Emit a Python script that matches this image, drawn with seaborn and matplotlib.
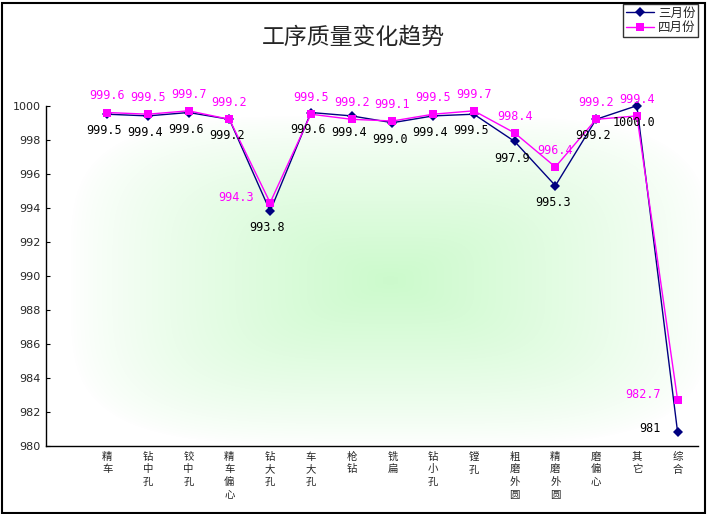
import numpy as np
import pandas as pd
import seaborn as sns
import matplotlib
matplotlib.use("Agg")
from matplotlib import pyplot as plt
from matplotlib.patches import Rectangle

# data
processes = ["精车", "钻中孔", "铰中孔", "精车偏心", "钻大孔", "车大孔", "枪钻", "铣扁",
             "钻小孔", "镗孔", "粗磨外圆", "精磨外圆", "磨偏心", "其它", "综合"]
march = [999.5, 999.4, 999.6, 999.2, 993.8, 999.6, 999.4, 999.0,
         999.4, 999.5, 997.9, 995.3, 999.2, 1000.0, 980.8]
april = [999.6, 999.5, 999.7, 999.2, 994.3, 999.5, 999.2, 999.1,
         999.5, 999.7, 998.4, 996.4, 999.2, 999.4, 982.7]
march_text = ["999.5", "999.4", "999.6", "999.2", "993.8", "999.6", "999.4", "999.0",
              "999.4", "999.5", "997.9", "995.3", "999.2", "1000.0", "981"]
april_text = ["999.6", "999.5", "999.7", "999.2", "994.3", "999.5", "999.2", "999.1",
              "999.5", "999.7", "998.4", "996.4", "999.2", "999.4", "982.7"]
series_names = ["三月份", "四月份"]
yticks = [980, 982, 984, 986, 988, 990, 992, 994, 996, 998, 1000]

NAVY = "#000080"
MAGENTA = "#FF00FF"

sns.set_theme(style="white")
plt.rcParams["font.family"] = ["Noto Sans CJK SC", "DejaVu Sans"]
plt.rcParams["axes.unicode_minus"] = False

n = len(processes)
pos = np.arange(1, n + 1)

df = pd.DataFrame({
    "pos": np.concatenate([pos, pos]),
    "value": march + april,
    "月份": [series_names[0]] * n + [series_names[1]] * n,
})

W, H = 707, 514
fig = plt.figure(figsize=(W / 100, H / 100), dpi=100)

# soft green background glow (rectangular gradient from centre)
bg = fig.add_axes([0, 0, 1, 1], zorder=-5)
xx, yy = np.meshgrid(np.arange(W), np.arange(H))
t = ((np.abs(xx - 390) / 320) ** 4 + (np.abs(yy - 280) / 165) ** 4) ** 0.25
a = np.clip(1 - t, 0, 1) ** 0.8
img = np.ones((H, W, 3))
green = np.array([0.80, 0.98, 0.80])
img = img * (1 - a[..., None]) + green * a[..., None]
bg.imshow(img, extent=(0, W, H, 0), aspect="auto")
bg.set_xlim(0, W)
bg.set_ylim(H, 0)
bg.axis("off")

ax = fig.add_axes([46 / W, 1 - 446 / H, (698 - 46) / W, (446 - 105.7) / H])
ax.set_facecolor("none")

sns.lineplot(data=df, x="pos", y="value", hue="月份", style="月份",
             markers={series_names[0]: "D", series_names[1]: "s"}, dashes=False,
             palette={series_names[0]: NAVY, series_names[1]: MAGENTA},
             linewidth=1.0, markersize=5.5, markeredgewidth=0, ax=ax)
for line in ax.get_lines():
    line.set_clip_on(False)

ax.set_xlim(-0.5, n + 0.5)
ax.set_ylim(980, 1000)
ax.set_yticks(yticks)
ax.set_yticklabels([str(v) for v in yticks], family="DejaVu Sans", fontsize=8)
ax.set_xticks(pos)
ax.set_xticklabels(["\n".join(p) for p in processes], fontsize=7.5, linespacing=1.35)
ax.set_xticks(np.arange(-0.5, n + 1), minor=True)
ax.tick_params(axis="x", which="major", length=0, pad=4)
ax.tick_params(axis="x", which="minor", direction="in", length=3, width=0.8, color="black")
ax.tick_params(axis="y", direction="in", length=3, width=0.8, color="black", pad=4,
               left=True)
ax.set_xlabel("")
ax.set_ylabel("")
for side in ["top", "right"]:
    ax.spines[side].set_visible(False)
for side in ["left", "bottom"]:
    ax.spines[side].set_color("black")
    ax.spines[side].set_linewidth(1.0)

# data labels
left_april = {4, 14}
for i in range(n):
    if i == n - 1:
        ax.annotate(march_text[i], (pos[i], march[i]), xytext=(-12, 3), textcoords="offset points",
                    ha="right", va="center", fontsize=8.5, family="DejaVu Sans Mono",
                    color="black", annotation_clip=False)
    else:
        ax.annotate(march_text[i], (pos[i], march[i]), xytext=(-2, -12), textcoords="offset points",
                    ha="center", va="center", fontsize=8.5, family="DejaVu Sans Mono",
                    color="black", annotation_clip=False)
    if i in left_april:
        ax.annotate(april_text[i], (pos[i], april[i]), xytext=(-12, 4), textcoords="offset points",
                    ha="right", va="center", fontsize=8.5, family="DejaVu Sans Mono",
                    color=MAGENTA, annotation_clip=False)
    else:
        ax.annotate(april_text[i], (pos[i], april[i]), xytext=(0, 12), textcoords="offset points",
                    ha="center", va="center", fontsize=8.5, family="DejaVu Sans Mono",
                    color=MAGENTA, annotation_clip=False)

leg = ax.legend(loc="upper right", bbox_to_anchor=(698 / W, 1 - 4 / H),
                bbox_transform=fig.transFigure, frameon=True, fancybox=False,
                fontsize=9, handlelength=2.3, handletextpad=0.3, borderpad=0.2,
                labelspacing=0.15, borderaxespad=0, title=None)
leg.get_frame().set_edgecolor("black")
leg.get_frame().set_linewidth(1.0)
leg.get_frame().set_facecolor("white")

fig.text(353 / W, 1 - 37 / H, "工序质量变化趋势", ha="center", va="center", fontsize=16.5)

fig.patches.append(Rectangle((1.5 / W, 1.5 / H), (W - 4) / W, (H - 4) / H,
                             transform=fig.transFigure, fill=False,
                             edgecolor="black", linewidth=1.5))

fig.savefig("out.png", dpi=100)
